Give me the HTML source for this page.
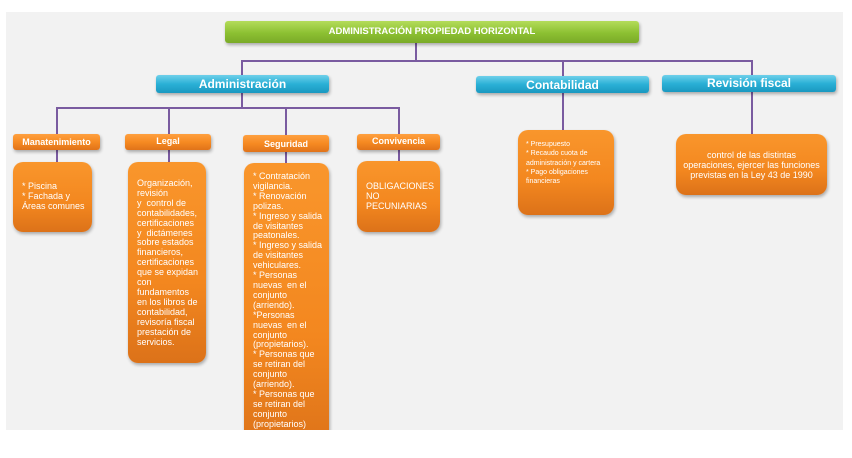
<!DOCTYPE html>
<html><head><meta charset="utf-8"><style>
*{margin:0;padding:0;box-sizing:border-box}
body{width:852px;height:458px;background:#fff;position:relative;overflow:hidden;font-family:"Liberation Sans",sans-serif}
#panel{position:absolute;left:6px;top:12px;width:837px;height:418px;background:#f2f2f2;overflow:hidden}
.a{position:absolute}
.ln{position:absolute;background:#7a5ba0}
.g{background:linear-gradient(#b4dc5a,#8cc032 55%,#7aaa28);border-radius:3px;color:#fff;font-weight:bold;font-size:9.5px;text-align:center;line-height:22px;box-shadow:1px 2px 3px rgba(0,0,0,.3)}
.b{background:linear-gradient(#6fd0ea,#2ab0d6 50%,#1a98c0);border-radius:3px;color:#fff;font-weight:bold;font-size:12px;text-align:center;box-shadow:1px 2px 3px rgba(0,0,0,.3)}
.o{background:linear-gradient(#ffa040,#f68a22 50%,#e0731a);border-radius:3px;color:#fff;font-weight:bold;font-size:9px;text-align:center;box-shadow:1px 2px 3px rgba(0,0,0,.3)}
.ob{background:linear-gradient(#f9962c,#f3871f 60%,#dc7219);border-radius:10px;color:#fff;font-size:9px;line-height:9.9px;box-shadow:1px 2px 3px rgba(0,0,0,.3);padding:0 6px 0 9px}
</style></head><body>
<div id="panel"></div>
<div class="ln" style="left:415px;top:43px;width:2px;height:19px"></div>
<div class="ln" style="left:241px;top:60px;width:512px;height:2px"></div>
<div class="ln" style="left:241px;top:60px;width:2px;height:16px"></div>
<div class="ln" style="left:562px;top:60px;width:2px;height:16px"></div>
<div class="ln" style="left:751px;top:60px;width:2px;height:16px"></div>
<div class="ln" style="left:241px;top:92px;width:2px;height:17px"></div>
<div class="ln" style="left:56px;top:107px;width:344px;height:2px"></div>
<div class="ln" style="left:56px;top:107px;width:2px;height:28px"></div>
<div class="ln" style="left:168px;top:107px;width:2px;height:28px"></div>
<div class="ln" style="left:285px;top:107px;width:2px;height:28px"></div>
<div class="ln" style="left:398px;top:107px;width:2px;height:28px"></div>
<div class="ln" style="left:56px;top:150px;width:2px;height:13px"></div>
<div class="ln" style="left:168px;top:150px;width:2px;height:13px"></div>
<div class="ln" style="left:285px;top:151px;width:2px;height:13px"></div>
<div class="ln" style="left:398px;top:150px;width:2px;height:12px"></div>
<div class="ln" style="left:562px;top:92px;width:2px;height:39px"></div>
<div class="ln" style="left:751px;top:92px;width:2px;height:43px"></div>
<div class="a g" style="left:225px;top:21px;width:414px;height:22px">ADMINISTRACIÓN PROPIEDAD HORIZONTAL</div>
<div class="a b" style="left:156px;top:75px;width:173px;height:18px;line-height:18px">Administración</div>
<div class="a b" style="left:476px;top:76px;width:173px;height:17px;line-height:18px">Contabilidad</div>
<div class="a b" style="left:662px;top:75px;width:174px;height:17px;line-height:17px">Revisión fiscal</div>
<div class="a o" style="left:13px;top:134px;width:87px;height:16px;line-height:17px">Manatenimiento</div>
<div class="a o" style="left:125px;top:134px;width:86px;height:16px;line-height:14px">Legal</div>
<div class="a o" style="left:243px;top:135px;width:86px;height:17px;line-height:19px">Seguridad</div>
<div class="a o" style="left:357px;top:134px;width:83px;height:16px;line-height:15px">Convivencia</div>
<div class="a ob" style="left:13px;top:162px;width:79px;height:70px;padding-top:20px">* Piscina<br>* Fachada y<br>Áreas comunes</div>
<div class="a ob" style="left:128px;top:162px;width:78px;height:201px;padding-top:17px;padding-right:4px">Organización,<br>revisión<br>y &nbsp;control de contabilidades, certificaciones<br>y &nbsp;dictámenes sobre estados financieros, certificaciones que se expidan con<br>fundamentos<br>en los libros de contabilidad, revisoría fiscal prestación de servicios.</div>
<div class="a" style="left:240px;top:160px;width:95px;height:270px;overflow:hidden">
<div class="a ob" style="left:4px;top:3px;width:85px;height:290px;padding:9px 6px 0 9px;border-radius:10px">* Contratación vigilancia.<br>* Renovación polizas.<br>* Ingreso y salida de visitantes peatonales.<br>* Ingreso y salida de visitantes vehiculares.<br>* Personas nuevas &nbsp;en el conjunto (arriendo).<br>*Personas nuevas &nbsp;en el conjunto (propietarios).<br>* Personas que se retiran del conjunto (arriendo).<br>* Personas que se retiran del conjunto (propietarios)</div></div>
<div class="a ob" style="left:357px;top:161px;width:83px;height:71px;padding-top:21px">OBLIGACIONES<br>NO<br>PECUNIARIAS</div>
<div class="a ob" style="left:518px;top:130px;width:96px;height:85px;padding:10px 8px 0;font-size:7px;line-height:9.3px">* Presupuesto<br>* Recaudo cuota de administración y cartera<br>* Pago obligaciones financieras</div>
<div class="a ob" style="left:676px;top:134px;width:151px;height:61px;padding:17px 6px 0;text-align:center">control de las distintas<br>operaciones, ejercer las funciones<br>previstas en la Ley 43 de 1990</div>
</body></html>
